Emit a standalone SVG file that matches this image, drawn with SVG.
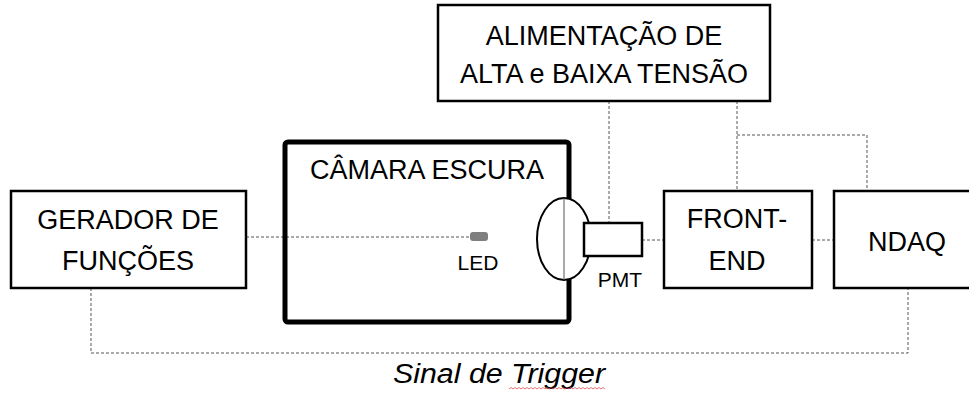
<svg xmlns="http://www.w3.org/2000/svg" width="969" height="393" viewBox="0 0 969 393">
<style>
.box{fill:#fff;stroke:#000;stroke-width:2.5}
.dash{fill:none;stroke:#555;stroke-width:1;stroke-dasharray:3 2}
.t{font-family:"Liberation Sans",Arial,sans-serif;font-size:27px;fill:#000;text-anchor:middle}
.s{font-family:"Liberation Sans",Arial,sans-serif;font-size:21px;fill:#000;text-anchor:middle}
</style>
<rect width="969" height="393" fill="#fff"/>
<g id="connectors">
<path class="dash" d="M246 237 H470"/>
<path class="dash" d="M609 101 V223"/>
<path class="dash" d="M737 101 V191"/>
<path class="dash" d="M737 135 H867 V191"/>
<path class="dash" d="M642 240 H664"/>
<path class="dash" d="M812 240 H834"/>
<path class="dash" d="M91 288 V353 H908 V288"/>
</g>
<g id="alimentacao">
<rect class="box" x="438" y="5" width="332" height="96"/>
<text class="t" x="604" y="45">ALIMENTAÇÃO DE</text>
<text class="t" x="604" y="83">ALTA e BAIXA TENSÃO</text>
</g>
<g id="gerador">
<rect class="box" x="11" y="191" width="235" height="97"/>
<text class="t" x="128" y="229">GERADOR DE</text>
<text class="t" x="128" y="270">FUNÇÕES</text>
</g>
<g id="camara">
<rect x="285" y="142" width="284" height="180" rx="3" fill="none" stroke="#000" stroke-width="5"/>
<text class="t" x="427" y="179">CÂMARA ESCURA</text>
</g>
<g id="led">
<rect x="470" y="232" width="18" height="9" rx="3" fill="#7f7f7f"/>
<text class="s" x="478" y="270">LED</text>
</g>
<g id="lente">
<ellipse cx="564" cy="239" rx="27" ry="41" fill="#fff" stroke="#000" stroke-width="2"/>
<line x1="564" y1="198" x2="564" y2="280" stroke="#555" stroke-width="1"/>
</g>
<g id="pmt">
<rect class="box" x="584" y="223" width="58" height="33"/>
<text class="s" x="620" y="287">PMT</text>
</g>
<g id="frontend">
<rect class="box" x="664" y="191" width="148" height="97"/>
<text class="t" x="737" y="228">FRONT-</text>
<text class="t" x="737" y="270">END</text>
</g>
<g id="ndaq">
<rect class="box" x="834" y="191" width="150" height="97"/>
<text class="t" x="907" y="251">NDAQ</text>
</g>
<g id="trigger">
<text x="499" y="383" font-family="'Liberation Sans',Arial,sans-serif" font-size="27" font-style="italic" text-anchor="middle" textLength="212" lengthAdjust="spacingAndGlyphs">Sinal de Trigger</text>
<path d="M509 389 l2 -1.5 l2 1.5 l2 -1.5 l2 1.5 l2 -1.5 l2 1.5 l2 -1.5 l2 1.5 l2 -1.5 l2 1.5 l2 -1.5 l2 1.5 l2 -1.5 l2 1.5 l2 -1.5 l2 1.5 l2 -1.5 l2 1.5 l2 -1.5 l2 1.5 l2 -1.5 l2 1.5 l2 -1.5 l2 1.5 l2 -1.5 l2 1.5 l2 -1.5 l2 1.5 l2 -1.5 l2 1.5 l2 -1.5 l2 1.5 l2 -1.5 l2 1.5 l2 -1.5 l2 1.5 l2 -1.5 l2 1.5 l2 -1.5 l2 1.5 l2 -1.5 l2 1.5 l2 -1.5 l2 1.5 l2 -1.5 l2 1.5 l2 -1.5 l2 1.5" fill="none" stroke="#e05050" stroke-width="0.8"/>
</g>
</svg>
